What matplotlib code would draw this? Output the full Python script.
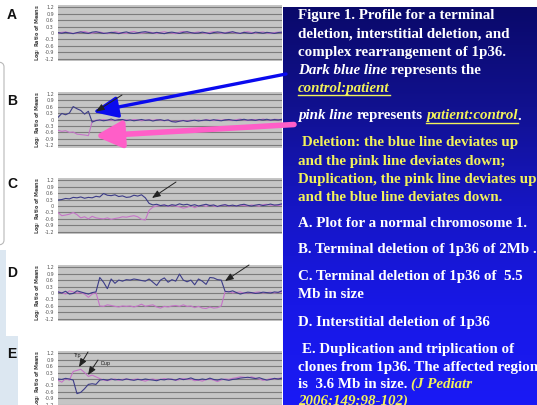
import numpy as np
import matplotlib
matplotlib.use('Agg')
import matplotlib.pyplot as plt
from matplotlib.colors import LinearSegmentedColormap
from matplotlib.patches import FancyArrowPatch, Rectangle, FancyBboxPatch
from matplotlib.lines import Line2D

# ---------------- data ----------------
panel_labels = ['A', 'B', 'C', 'D', 'E']
ytick_values = [1.2, 0.9, 0.6, 0.3, 0, -0.3, -0.6, -0.9, -1.2]
ytick_labels = ['1.2', '0.9', '0.6', '0.3', '0', '-0.3', '-0.6', '-0.9', '-1.2']
ylabel_text = 'Log$_2$ Ratio of Means'

A_blue = [0.02, -0.01, 0.03, 0.0, -0.03, 0.02, 0.05, 0.01, -0.02, 0.04, 0.06, 0.02, -0.02, 0.0, 0.03,
          0.01, -0.03, 0.02, 0.05, 0.0, -0.02, 0.01, 0.04, 0.06, 0.02, -0.01, 0.03, 0.0, -0.03, 0.02,
          0.04, 0.01, -0.02, 0.03, 0.06, 0.02, -0.01, 0.0, 0.04, 0.01, -0.03, 0.02, 0.05, 0.03, -0.01,
          0.02, 0.06, 0.01, -0.02, 0.03, 0.0, -0.02, 0.04, 0.02, -0.01, 0.03, 0.01, -0.02, 0.02, 0.04]
A_pink = [0.0, 0.03, 0.05, 0.01, -0.02, 0.0, 0.04, 0.07, 0.02, -0.01, 0.03, 0.05, 0.0, -0.03, 0.02,
          0.06, 0.03, 0.0, -0.02, 0.04, 0.07, 0.02, -0.01, 0.02, 0.05, 0.01, -0.02, 0.03, 0.06, 0.02,
          0.0, -0.03, 0.04, 0.07, 0.03, 0.0, 0.02, 0.05, 0.01, -0.02, 0.03, 0.06, 0.02, -0.01, 0.01,
          0.05, 0.03, 0.0, -0.02, 0.04, 0.06, 0.02, -0.01, 0.03, 0.05, 0.0, -0.02, 0.02, 0.04, 0.01]

B_blue = [0.1, 0.28, 0.22, 0.3, 0.6, 0.5, 0.42, 0.25, 0.38, -0.12, -0.05, -0.02, -0.06, -0.03, 0.02,
          -0.04, -0.01, 0.0, -0.05, -0.02, -0.06, -0.03, 0.0, -0.04, -0.02, -0.07, -0.03, -0.01, -0.05, -0.02,
          -0.1, -0.12, -0.08, -0.05, -0.09, -0.06, -0.03, -0.07, -0.04, -0.02, -0.05, -0.01, -0.04, -0.06, -0.02,
          0.0, -0.03, -0.05, -0.02, 0.01, -0.03, -0.01, -0.04, 0.0, -0.02, 0.01, -0.03, 0.0, -0.02, 0.01]
B_pink = [-0.5, -0.55, -0.52, -0.6, -0.58, -0.68, -0.7, -0.72, -0.75, -0.1, -0.03, -0.05, 0.0, -0.04, -0.02,
          -0.06, 0.01, -0.03, -0.01, -0.05, 0.0, -0.02, -0.06, -0.03, -0.01, -0.04, 0.0, -0.03, -0.06, -0.02,
          -0.08, -0.1, -0.06, -0.04, -0.07, -0.03, -0.05, -0.02, -0.06, 0.0, -0.03, -0.05, -0.01, -0.04, 0.0,
          -0.02, -0.05, -0.01, 0.02, -0.02, -0.04, 0.0, -0.01, -0.03, 0.02, -0.01, -0.03, 0.01, 0.0, -0.02]

C_blue = [0.28, 0.3, 0.35, 0.33, 0.4, 0.38, 0.42, 0.36, 0.4, 0.38, 0.45, 0.42, 0.58, 0.5, 0.48,
          0.52, 0.44, 0.47, 0.4, 0.42, 0.5, 0.46, 0.52, 0.38, 0.12, 0.05, 0.08, 0.02, 0.05, 0.0,
          0.06, 0.03, 0.1, 0.05, 0.08, 0.02, 0.06, 0.0, 0.04, 0.08, 0.02, 0.05, -0.02, 0.03, 0.06,
          0.01, 0.04, 0.0, 0.05, 0.08, 0.03, 0.0, 0.04, 0.07, 0.02, 0.05, 0.09, 0.04, 0.06, 0.1]
C_pink = [-0.3, -0.45, -0.42, -0.38, -0.3, -0.4, -0.55, -0.5, -0.6, -0.48, -0.55, -0.58, -0.6, -0.55, -0.62,
          -0.58, -0.55, -0.5, -0.52, -0.48, -0.45, -0.5, -0.62, -0.65, -0.2, -0.05, 0.0, 0.02, 0.04, -0.02,
          0.03, 0.0, -0.04, -0.1, -0.06, 0.02, -0.08, 0.0, 0.03, -0.02, 0.04, 0.0, -0.03, 0.02, 0.05,
          -0.01, 0.03, 0.0, 0.04, 0.02, 0.0, 0.05, 0.02, -0.01, 0.06, 0.08, 0.03, 0.05, 0.02, 0.06]

D_blue = [0.05, 0.0, 0.08, -0.05, -0.02, 0.1, 0.05, 0.0, -0.05, 0.02, 0.05, 0.72, 0.5, 0.2, 0.65,
          0.45, 0.6, 0.55, 0.62, 0.6, 0.65, 0.62, 0.58, 0.55, 0.65, 0.5, 0.35, 0.6, 0.7, 0.5,
          0.62, 0.55, 0.88, 0.6, 0.52, 0.6, 0.38, 0.65, 0.55, 0.4, 0.72, 0.7, 0.62, 0.6, 0.08,
          0.05, 0.1, 0.02, -0.05, 0.0, 0.04, 0.02, -0.02, 0.0, 0.04, 0.02, 0.0, 0.05, 0.03, 0.1]
D_pink = [0.05, 0.02, -0.05, 0.1, 0.05, 0.0, 0.02, -0.05, -0.2, -0.05, 0.02, -0.6, -0.62, -0.55, -0.58,
          -0.62, -0.65, -0.6, -0.62, -0.6, -0.65, -0.6, -0.52, -0.62, -0.58, -0.55, -0.65, -0.7, -0.62, -0.65,
          -0.6, -0.58, -0.62, -0.55, -0.62, -0.6, -0.68, -0.62, -0.7, -0.72, -0.65, -0.7, -0.68, -0.6, 0.05,
          0.08, 0.0, 0.03, 0.05, -0.02, 0.02, 0.0, 0.03, 0.05, 0.0, 0.02, 0.04, 0.0, 0.03, 0.05]

E_blue = [0.0, -0.02, 0.03, 0.0, -0.05, -0.68, -0.62, -0.45, -0.25, -0.22, -0.25, -0.05, -0.02, -0.06, 0.0,
          -0.04, -0.02, -0.05, 0.0, -0.03, -0.06, -0.02, -0.04, 0.0, -0.03, -0.05, -0.08, -0.02, -0.04, 0.0,
          -0.02, -0.05, 0.02, -0.03, 0.0, 0.05, -0.02, -0.04, 0.0, -0.03, 0.04, -0.02, -0.05, 0.0, -0.03,
          -0.06, -0.02, 0.0, 0.04, 0.06, 0.08, 0.05, 0.02, 0.06, 0.0, -0.05, -0.02, 0.03, 0.0, 0.04]
E_pink = [-0.05, -0.15, 0.02, -0.05, 0.35, 0.4, 0.45, 0.3, 0.12, 0.18, 0.1, 0.02, -0.05, -0.08, -0.03,
          0.0, -0.06, -0.02, 0.0, -0.04, -0.02, 0.0, -0.05, -0.1, -0.03, 0.0, -0.05, -0.02, 0.02, -0.03,
          0.0, -0.06, -0.03, 0.02, -0.02, 0.0, -0.08, -0.05, -0.1, -0.02, 0.0, -0.05, -0.12, -0.04, 0.0,
          -0.02, 0.03, 0.06, 0.1, 0.08, 0.05, 0.1, 0.04, 0.0, -0.06, -0.03, 0.02, 0.0, 0.03, 0.05]

blue_series = [A_blue, B_blue, C_blue, D_blue, E_blue]
pink_series = [A_pink, B_pink, C_pink, D_pink, E_pink]

# ---------------- figure ----------------
W, H = 537, 405
fig = plt.figure(figsize=(W / 100, H / 100), dpi=100)
fig.patch.set_facecolor('white')


def fx(x):
    return x / W


def fy(y):
    return 1 - y / H


# left slide decoration
fig.add_artist(FancyBboxPatch((fx(-30), fy(245)), fx(34), (245 - 62) / H,
                              boxstyle='round,pad=0,rounding_size=0.012',
                              transform=fig.transFigure, facecolor='white',
                              edgecolor='#b8b8b8', lw=0.8, zorder=0))
fig.add_artist(Rectangle((0, 0), fx(6), fy(250), transform=fig.transFigure,
                         facecolor='#dce7f1', edgecolor='none', zorder=0))
fig.add_artist(Rectangle((0, 0), fx(18), fy(336), transform=fig.transFigure,
                         facecolor='#dce7f1', edgecolor='none', zorder=0))

centers = [33, 119.5, 206, 293, 379]
letter_y = [15, 101, 184, 273, 354]
ax_left, ax_right, ax_h = 58, 282, 56

for i, lab in enumerate(panel_labels):
    c = centers[i]
    ax = fig.add_axes([fx(ax_left), fy(c + ax_h / 2), (ax_right - ax_left) / W, ax_h / H])
    ax.set_facecolor('#c5c5c5')
    for v in ytick_values:
        ax.axhline(v, color='#7c7c7c', lw=0.8, zorder=1)
    b = blue_series[i]
    p = pink_series[i]
    ax.plot(np.linspace(0, 1, len(p)), p, color='#c574c8', lw=0.8, zorder=3)
    ax.plot(np.linspace(0, 1, len(b)), b, color='#3c3c88', lw=0.8, zorder=4)
    ax.set_xlim(0, 1)
    ax.set_ylim(-1.3, 1.3)
    ax.set_xticks([])
    ax.set_yticks(ytick_values)
    ax.set_yticklabels(ytick_labels)
    ax.tick_params(axis='y', length=0, pad=3, labelsize=3.5, labelcolor='#555555')
    ax.set_ylabel(ylabel_text, fontsize=3.5, color='#444444', labelpad=2, fontweight='bold')
    for s in ax.spines.values():
        s.set_visible(False)
    fig.text(fx(12), fy(letter_y[i]), lab, fontsize=10, fontweight='bold',
             family='Liberation Sans', ha='center', va='center', color='#111111')

# ---------------- right panel with gradient ----------------
px0, py0 = 283, 7
bg = fig.add_axes([fx(px0), 0, (W - px0) / W, fy(py0)], zorder=0)
cmap = LinearSegmentedColormap.from_list('slide', ['#0a096a', '#11118f', '#1616c4', '#1818e6', '#1a1af5'])
grad = np.linspace(0, 1, 256).reshape(-1, 1)
bg.imshow(grad, aspect='auto', cmap=cmap, extent=[0, 1, 0, 1], origin='upper')
bg.set_axis_off()

renderer = fig.canvas.get_renderer()
WHITE = '#ffffff'
YEL = '#f2f25a'
FSIZE = 10.8


def measure(txt, style):
    t = fig.text(0, 0, txt, fontsize=FSIZE, fontweight='bold', fontstyle=style,
                 family='Liberation Serif')
    w = t.get_window_extent(renderer).width
    t.remove()
    return w


space_w = measure('a a', 'normal') - measure('aa', 'normal')


def rich_line(y, parts, x=298):
    for j, (txt, color, style, ul) in enumerate(parts):
        if j > 0:
            x += space_w
        t = fig.text(fx(x), fy(y), txt, color=color, fontsize=FSIZE, fontweight='bold',
                     fontstyle=style, family='Liberation Serif', va='baseline', ha='left', zorder=10)
        w = t.get_window_extent(renderer).width
        if ul:
            fig.add_artist(Line2D([fx(x), fx(x + w)], [fy(y + 3.2)] * 2, color=color, lw=1.0,
                                  transform=fig.transFigure, zorder=10))
        x += w


N_, I_ = 'normal', 'italic'
lines = [
    (19, [("Figure 1. Profile for a terminal", WHITE, N_, False)]),
    (37.5, [("deletion, interstitial deletion, and", WHITE, N_, False)]),
    (56, [("complex rearrangement of 1p36.", WHITE, N_, False)]),
    (74, [("Dark blue line", WHITE, I_, False), ("represents the", WHITE, N_, False)]),
    (92, [("control:patient", YEL, I_, True)]),
    (119.5, [("pink line", WHITE, I_, False), ("represents", WHITE, N_, False)]),
    (146, [("Deletion: the blue line deviates up", YEL, N_, False)]),
    (165, [("and the pink line deviates down;", YEL, N_, False)]),
    (183, [("Duplication, the pink line deviates up", YEL, N_, False)]),
    (201, [("and the blue line deviates down.", YEL, N_, False)]),
    (227, [("A. Plot for a normal chromosome 1.", WHITE, N_, False)]),
    (253.5, [("B. Terminal deletion of 1p36 of 2Mb .", WHITE, N_, False)]),
    (280, [("C. Terminal deletion of 1p36 of  5.5", WHITE, N_, False)]),
    (298, [("Mb in size", WHITE, N_, False)]),
    (326, [("D. Interstitial deletion of 1p36", WHITE, N_, False)]),
    (353, [("E. Duplication and triplication of", WHITE, N_, False)]),
    (371, [("clones from 1p36. The affected region", WHITE, N_, False)]),
    (388, [("is  3.6 Mb in size.", WHITE, N_, False), ("(J Pediatr", YEL, I_, False)]),
    (404.5, [("2006;149:98-102)", YEL, I_, False)]),
]
indent = {146: 302, 353: 302}
for y, parts in lines:
    rich_line(y, parts, x=indent.get(y, 298))

# "patient:control" with underline and trailing period on the pink line
x_pc = 298 + measure("pink line", I_) + space_w + measure("represents", N_) + space_w
t = fig.text(fx(x_pc), fy(119.5), "patient:control", color=YEL, fontsize=FSIZE, fontweight='bold',
             fontstyle=I_, family='Liberation Serif', va='baseline', ha='left', zorder=10)
w_pc = t.get_window_extent(renderer).width
fig.add_artist(Line2D([fx(x_pc), fx(x_pc + w_pc)], [fy(122.7)] * 2, color=YEL, lw=1.0,
                      transform=fig.transFigure, zorder=10))
fig.text(fx(x_pc + w_pc), fy(119.5), ".", color=WHITE, fontsize=FSIZE, fontweight='bold',
         family='Liberation Serif', va='baseline', ha='left', zorder=10)

# ---------------- arrows ----------------
def arrow(p0, p1, color, lw, hl, hw, ms=1):
    a = FancyArrowPatch((fx(p0[0]), fy(p0[1])), (fx(p1[0]), fy(p1[1])),
                        arrowstyle=f'-|>,head_length={hl},head_width={hw}', mutation_scale=ms,
                        color=color, lw=lw, transform=fig.transFigure, shrinkA=0, shrinkB=0,
                        zorder=20)
    fig.add_artist(a)


arrow((286, 74), (93, 112), '#0a0aee', 2.4, 15, 6.5)
arrow((294, 124.5), (95, 136), '#ff5ec8', 4.0, 16, 8)
arrow((122, 95), (96, 111.5), '#222222', 0.7, 5, 2)
arrow((176, 182), (152, 198), '#222222', 0.7, 5, 2)
arrow((249, 265), (225, 281), '#222222', 0.7, 5, 2)
arrow((88, 352), (79, 367), '#222222', 0.7, 5, 2)
arrow((98, 360), (88, 375), '#222222', 0.7, 5, 2)
fig.text(fx(77), fy(355), 'Trp', fontsize=3.6, color='#222222', ha='center', va='center')
fig.text(fx(106), fy(363), 'Dup', fontsize=3.6, color='#222222', ha='center', va='center')

fig.savefig('out.png', dpi=100)
